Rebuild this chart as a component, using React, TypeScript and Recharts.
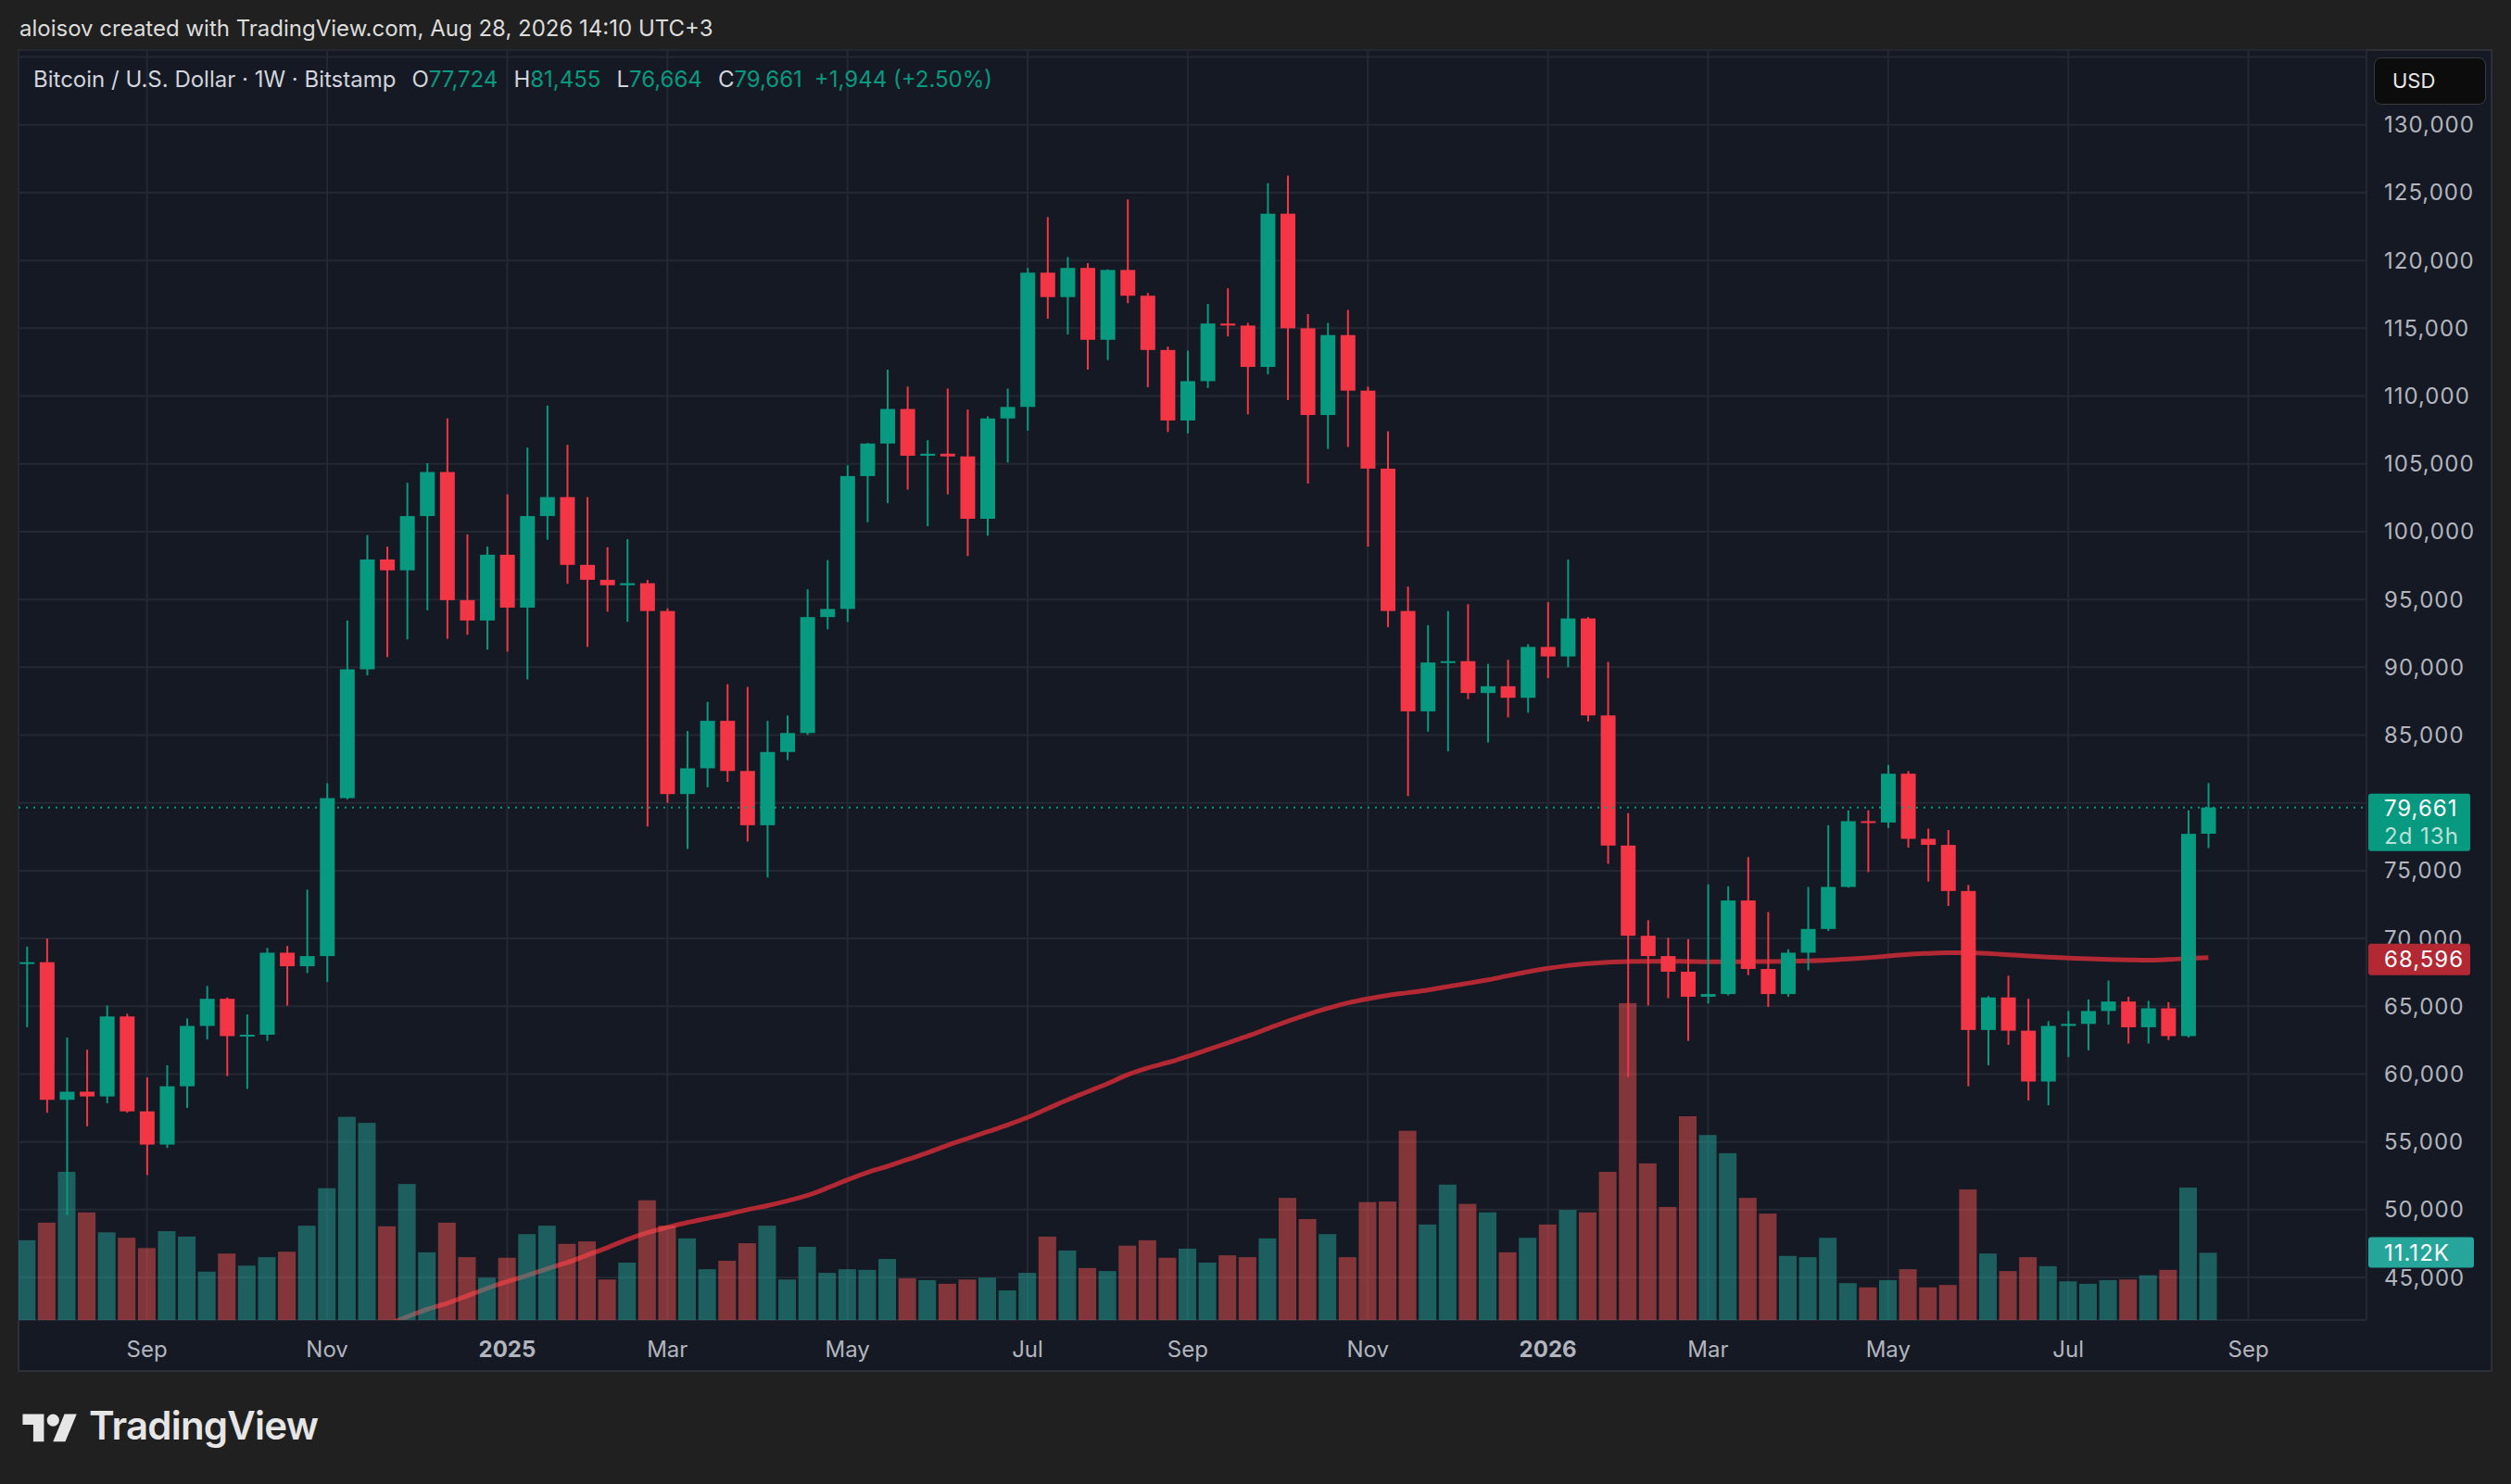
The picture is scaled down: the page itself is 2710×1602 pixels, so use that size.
import { Bar, CartesianGrid, ComposedChart, Line, ReferenceLine, XAxis, YAxis } from "recharts";

// weekly BTC/USD candles, Jul 22 2024 .. Aug 24 2026 (index = week number)
const opens = [
  68200, 68250, 58100, 58700, 58350, 64250, 57250, 54800, 59100, 63550,
  65550, 62800, 62900, 68950, 67950, 68700, 80350, 89850, 97950, 97150,
  101150, 104400, 94950, 93450, 98300, 94400, 101150, 102550, 97550, 96450,
  96050, 96200, 94150, 80650, 82550, 86050, 82350, 78350, 83750, 85150,
  93700, 94300, 104100, 106500, 109050, 105600, 105750, 105550, 100950, 108350,
  109200, 119100, 117300, 119450, 114150, 119300, 117400, 113400, 108200, 111100,
  115350, 115200, 112150, 123450, 115000, 108600, 114500, 110400, 104650, 94150,
  86750, 90350, 90450, 88100, 88600, 87750, 91500, 90800, 93600, 86450,
  76850, 70200, 68700, 67550, 65700, 65900, 72800, 67750, 65900, 68950,
  70700, 73800, 78650, 78550, 82150, 77350, 76900, 73500, 63250, 65650,
  63200, 59450, 63550, 63700, 64650, 65350, 63450, 64850, 62800, 77724,
];
const highs = [
  69400, 70000, 62700, 61800, 65050, 64450, 59750, 60650, 64100, 66500,
  65650, 64400, 69300, 69450, 73600, 81450, 93450, 99750, 98900, 103600,
  105050, 108350, 99800, 98900, 102750, 106200, 109300, 106400, 102550, 98850,
  99450, 96450, 94350, 85300, 87450, 88750, 88550, 86050, 86450, 95750,
  97900, 104900, 106550, 111950, 110700, 106750, 110550, 109000, 108500, 110550,
  119450, 123200, 120250, 119800, 119350, 124500, 117600, 113650, 113350, 116800,
  117950, 115400, 125700, 126250, 116050, 115400, 116350, 110700, 107400, 95950,
  93100, 94150, 94650, 90250, 90550, 91700, 94800, 97950, 93700, 90400,
  79250, 71350, 70050, 69950, 74000, 73850, 76000, 71950, 69200, 73800,
  78350, 79450, 79450, 82800, 82350, 78100, 78000, 73950, 65750, 67250,
  65550, 63900, 64650, 65500, 66900, 65700, 65400, 65300, 79450, 81455,
];
const lows = [
  63450, 57150, 49600, 56150, 57850, 57150, 52550, 54550, 57500, 62550,
  59850, 58900, 62450, 65050, 67450, 66800, 80250, 89400, 90750, 92050,
  94200, 92100, 92400, 91300, 91150, 89100, 99400, 96150, 91500, 94100,
  93350, 78250, 80000, 76600, 81150, 81550, 77150, 74500, 83150, 85000,
  92800, 93350, 100700, 102100, 103100, 100400, 102750, 98200, 99700, 105100,
  107450, 115700, 114550, 111950, 112650, 116850, 110650, 107350, 107250, 110600,
  114400, 108650, 111600, 109700, 103550, 106100, 106250, 98900, 92950, 80500,
  85250, 83800, 87650, 84450, 86300, 86650, 89200, 90000, 86000, 75500,
  59800, 65050, 65600, 62450, 65200, 65800, 67300, 64950, 65700, 67650,
  70550, 73750, 74900, 78150, 76700, 74200, 72400, 59100, 60650, 62150,
  58050, 57700, 61250, 61750, 63650, 62250, 62250, 62500, 62700, 76664,
];
const closes = [
  68250, 58100, 58700, 58350, 64250, 57250, 54800, 59100, 63550, 65550,
  62800, 62900, 68950, 67950, 68700, 80350, 89850, 97950, 97150, 101150,
  104400, 94950, 93450, 98300, 94400, 101150, 102550, 97550, 96450, 96050,
  96200, 94150, 80650, 82550, 86050, 82350, 78350, 83750, 85150, 93700,
  94300, 104100, 106500, 109050, 105600, 105750, 105550, 100950, 108350, 109200,
  119100, 117300, 119450, 114150, 119300, 117400, 113400, 108200, 111100, 115350,
  115200, 112150, 123450, 115000, 108600, 114500, 110400, 104650, 94150, 86750,
  90350, 90450, 88100, 88600, 87750, 91500, 90800, 93600, 86450, 76850,
  70200, 68700, 67550, 65700, 65900, 72800, 67750, 65900, 68950, 70700,
  73800, 78650, 78550, 82150, 77350, 76900, 73500, 63250, 65650, 63200,
  59450, 63550, 63700, 64650, 65350, 63450, 64850, 62800, 77717, 79661,
];
// volume in thousands of BTC
const volumes = [
  13.2, 16.1, 24.5, 17.8, 14.5, 13.6, 11.9, 14.7, 13.8, 8.0,
  11.0, 9.0, 10.4, 11.3, 15.6, 21.8, 33.6, 32.6, 15.5, 22.5,
  11.2, 16.1, 10.4, 7.0, 10.3, 14.2, 15.6, 12.6, 13.0, 6.7,
  9.5, 19.8, 15.6, 13.5, 8.4, 9.8, 12.7, 15.6, 6.7, 12.1,
  7.8, 8.4, 8.3, 10.1, 6.9, 6.6, 6.0, 6.7, 7.0, 4.9,
  7.8, 13.8, 11.5, 8.6, 8.1, 12.3, 13.2, 10.3, 11.8, 9.5,
  10.7, 10.4, 13.5, 20.2, 16.7, 14.2, 10.4, 19.5, 19.6, 31.3,
  15.8, 22.4, 19.2, 17.8, 11.2, 13.6, 15.8, 18.2, 17.8, 24.5,
  52.4, 25.9, 18.7, 33.7, 30.6, 27.6, 20.2, 17.6, 10.6, 10.4,
  13.6, 6.1, 5.4, 6.6, 8.4, 5.4, 5.8, 21.6, 11.0, 8.1,
  10.4, 8.9, 6.4, 6.0, 6.6, 6.7, 7.4, 8.3, 21.9, 11.12,
];
// moving average, below the visible range before week 17
const sma = [
  null, null, null, null, null, null, null, null, null, null,
  null, null, null, null, null, null, null, 40950, 41500, 42100,
  42650, 43100, 43650, 44200, 44700, 45150, 45650, 46100, 46650, 47200,
  47800, 48300, 48700, 49050, 49350, 49650, 50000, 50300, 50650, 51050,
  51600, 52200, 52750, 53200, 53700, 54200, 54750, 55250, 55750, 56250,
  56800, 57450, 58100, 58700, 59300, 59950, 60450, 60850, 61300, 61800,
  62300, 62800, 63350, 63900, 64400, 64850, 65250, 65550, 65800, 66000,
  66200, 66450, 66700, 66950, 67250, 67550, 67800, 68000, 68150, 68250,
  68300, 68320, 68320, 68300, 68280, 68280, 68290, 68300, 68320, 68350,
  68400, 68480, 68580, 68700, 68830, 68900, 68950, 68950, 68900, 68800,
  68700, 68620, 68560, 68500, 68450, 68420, 68400, 68450, 68530, 68596,
];

const monthTickIndex = [6, 15, 24, 32, 41, 50, 58, 67, 76, 84, 93, 102, 111];
const monthTickLabels = ["Sep", "Nov", "2025", "Mar", "May", "Jul", "Sep", "Nov", "2026", "Mar", "May", "Jul", "Sep"];
const priceTicks = [
  45000, 50000, 55000, 60000, 65000, 70000, 75000, 80000, 85000, 90000,
  95000, 100000, 105000, 110000, 115000, 120000, 125000, 130000, 135000,
];

const rows = opens.map((o, i) => ({
  i,
  o,
  h: highs[i],
  l: lows[i],
  c: closes[i],
  vol: volumes[i],
  ma: sma[i],
}));

const UP = "#089981";
const DOWN = "#f23645";
const VOL_UP = "rgba(38,166,154,0.5)";
const VOL_DOWN = "rgba(239,83,80,0.5)";
const MA_COLOR = "#b22833";
const GRID = "#242832";
const AXIS_TEXT = "#b2b5be";
const FONT = "Inter, 'Noto Sans', sans-serif";

const X_DOMAIN: [number, number] = [-0.42, 116.9];
const PRICE_DOMAIN: [number, number] = [41860, 135520];
const VOL_DOMAIN: [number, number] = [0, 210];

const last = rows[rows.length - 1];
const prev = rows[rows.length - 2];
const change = last.c - prev.c;
const changePct = (change / prev.c) * 100;
const fmt = (v: number) => v.toLocaleString("en-US");

function Candle(props: any) {
  const { x, y, width, height, payload } = props;
  if (!payload || height == null) return null;
  const top = Math.min(y, y + height);
  const span = Math.abs(height);
  const range = payload.h - payload.l || 1;
  const py = (v: number) => top + ((payload.h - v) / range) * span;
  const color = payload.c >= payload.o ? UP : DOWN;
  const bodyTop = py(Math.max(payload.o, payload.c));
  const bodyBottom = py(Math.min(payload.o, payload.c));
  const cx = x + width / 2;
  return (
    <g>
      <line x1={cx} x2={cx} y1={top} y2={top + span} stroke={color} strokeWidth={2} />
      <rect x={x} y={bodyTop} width={width} height={Math.max(bodyBottom - bodyTop, 2)} fill={color} />
    </g>
  );
}

function VolumeBar(props: any) {
  const { x, y, width, height, payload } = props;
  if (!payload) return null;
  return <rect x={x} y={y} width={width} height={height} fill={payload.c >= payload.o ? VOL_UP : VOL_DOWN} />;
}

function PriceTick(p: any) {
  const v = p.payload.value;
  if (v > 130000) return <g />;
  return (
    <text x={p.x} y={p.y} dominantBaseline="central" textAnchor="start" fill={AXIS_TEXT} fontSize={24} fontFamily={FONT} letterSpacing={1}>
      {fmt(v)}
    </text>
  );
}

function TimeTick(p: any) {
  const k = monthTickIndex.indexOf(p.payload.value);
  const label = k >= 0 ? monthTickLabels[k] : "";
  const isYear = /^\d{4}$/.test(label);
  return (
    <text x={p.x} y={p.y + 31} dominantBaseline="central" textAnchor="middle" fill={AXIS_TEXT} fontSize={24} fontWeight={isYear ? 700 : 400} fontFamily={FONT}>
      {label}
    </text>
  );
}

// tags sit just right of the plot area, whatever the segment direction
function tagLeft(p: any) {
  return Math.max(p.x1, p.x2) + 2;
}

function lastPriceShape(p: any) {
  const left = Math.min(p.x1, p.x2);
  const right = Math.max(p.x1, p.x2);
  const y = p.y1;
  const tx = tagLeft(p);
  return (
    <g>
      <line x1={left} x2={right} y1={y} y2={y} stroke={UP} strokeWidth={2} strokeDasharray="2 6" />
      <rect x={tx} y={y - 15} width={110} height={62} rx={3} fill={UP} />
      <text x={tx + 17} y={y + 1} dominantBaseline="central" fill="#ffffff" fontSize={24} fontFamily={FONT} letterSpacing={1}>
        {fmt(last.c)}
      </text>
      <text x={tx + 17} y={y + 31} dominantBaseline="central" fill="rgba(255,255,255,0.72)" fontSize={24} fontFamily={FONT} letterSpacing={1}>
        2d 13h
      </text>
    </g>
  );
}

function maShape(p: any) {
  const y = p.y1;
  const tx = tagLeft(p);
  return (
    <g>
      <rect x={tx} y={y - 15} width={110} height={34} rx={3} fill={MA_COLOR} />
      <text x={tx + 17} y={y + 2} dominantBaseline="central" fill="#ffffff" fontSize={24} fontFamily={FONT} letterSpacing={1}>
        {fmt(last.ma as number)}
      </text>
    </g>
  );
}

function volShape(p: any) {
  const y = p.y1;
  const tx = tagLeft(p);
  return (
    <g>
      <rect x={tx} y={y - 17} width={114} height={33} rx={3} fill="#26a69a" />
      <text x={tx + 17} y={y} dominantBaseline="central" fill="#ffffff" fontSize={24} fontFamily={FONT} letterSpacing={1}>
        {last.vol.toFixed(2)}K
      </text>
    </g>
  );
}

function PriceChart() {
  return (
    <ComposedChart width={2710} height={1602} data={rows} margin={{ top: 54, right: 21, bottom: 121, left: 20 }}>
      <CartesianGrid xAxisId="p" yAxisId="price" stroke={GRID} strokeWidth={2} />
      <XAxis
        xAxisId="p"
        dataKey="i"
        type="number"
        domain={X_DOMAIN}
        allowDataOverflow
        ticks={monthTickIndex}
        interval={0}
        tick={(p: any) => <TimeTick {...p} />}
        tickSize={0}
        tickMargin={0}
        axisLine={false}
        tickLine={false}
        height={56}
      />
      <XAxis xAxisId="v" dataKey="i" type="number" domain={X_DOMAIN} allowDataOverflow hide />
      <YAxis
        yAxisId="price"
        orientation="right"
        domain={PRICE_DOMAIN}
        allowDataOverflow
        ticks={priceTicks}
        interval={0}
        tick={(p: any) => <PriceTick {...p} />}
        tickSize={0}
        tickMargin={19}
        axisLine={false}
        tickLine={false}
        width={135}
      />
      <YAxis yAxisId="vol" domain={VOL_DOMAIN} allowDataOverflow hide />
      <Line
        xAxisId="p"
        yAxisId="price"
        dataKey="ma"
        type="monotone"
        stroke={MA_COLOR}
        strokeWidth={5}
        dot={false}
        activeDot={false}
        isAnimationActive={false}
        zIndex={260}
      />
      <Bar
        xAxisId="v"
        yAxisId="vol"
        dataKey="vol"
        barSize={19}
        shape={(p: any) => <VolumeBar {...p} />}
        isAnimationActive={false}
        zIndex={280}
      />
      <Bar
        xAxisId="p"
        yAxisId="price"
        dataKey={(d: any) => [d.l, d.h]}
        barSize={16}
        shape={(p: any) => <Candle {...p} />}
        isAnimationActive={false}
        zIndex={300}
      />
    </ComposedChart>
  );
}

// second layer with the same plot box, so the value tags cover the axis labels
function TagLayer() {
  return (
    <ComposedChart width={2710} height={1602} data={rows} margin={{ top: 54, right: 156, bottom: 177, left: 20 }}>
      <XAxis xAxisId="p" dataKey="i" type="number" domain={X_DOMAIN} allowDataOverflow hide />
      <YAxis yAxisId="price" domain={PRICE_DOMAIN} allowDataOverflow hide />
      <YAxis yAxisId="vol" domain={VOL_DOMAIN} allowDataOverflow hide />
      <ReferenceLine xAxisId="p" yAxisId="vol" y={last.vol} shape={volShape} />
      <ReferenceLine xAxisId="p" yAxisId="price" y={last.ma as number} shape={maShape} />
      <ReferenceLine xAxisId="p" yAxisId="price" y={last.c} shape={lastPriceShape} />
    </ComposedChart>
  );
}

export default function App() {
  return (
    <div style={{ position: "absolute", left: 0, top: 0, width: 2710, height: 1602, background: "#202020", overflow: "hidden", fontFamily: FONT }}>
      <div style={{ position: "absolute", left: 21, top: 16, fontSize: 24, lineHeight: "30px", color: "#dcdcdc" }}>
        aloisov created with TradingView.com, Aug 28, 2026 14:10 UTC+3
      </div>
      <div
        style={{
          position: "absolute",
          left: 19,
          top: 53,
          width: 2671,
          height: 1428,
          background: "#151924",
          border: "2px solid #2e3038",
          boxSizing: "border-box",
        }}
      />
      <div style={{ position: "absolute", left: 0, top: 0 }}>
        <PriceChart />
      </div>
      <div style={{ position: "absolute", left: 0, top: 0, pointerEvents: "none" }}>
        <TagLayer />
      </div>
      <div style={{ position: "absolute", left: 36, top: 71, fontSize: 24, lineHeight: "30px", color: "#d1d4dc", display: "flex", whiteSpace: "nowrap" }}>
        <span>Bitcoin / U.S. Dollar · 1W · Bitstamp</span>
        <span style={{ marginLeft: 17 }}>
          O<span style={{ color: UP }}>{fmt(last.o)}</span>
        </span>
        <span style={{ marginLeft: 17 }}>
          H<span style={{ color: UP }}>{fmt(last.h)}</span>
        </span>
        <span style={{ marginLeft: 17 }}>
          L<span style={{ color: UP }}>{fmt(last.l)}</span>
        </span>
        <span style={{ marginLeft: 17 }}>
          C<span style={{ color: UP }}>{fmt(last.c)}</span>
        </span>
        <span style={{ marginLeft: 13, color: UP }}>
          {change >= 0 ? "+" : ""}
          {fmt(change)} ({change >= 0 ? "+" : ""}
          {changePct.toFixed(2)}%)
        </span>
      </div>
      <div
        style={{
          position: "absolute",
          left: 2562,
          top: 62,
          width: 121,
          height: 51,
          boxSizing: "border-box",
          background: "#0c0c0c",
          border: "1px solid #3a3a3a",
          borderRadius: 8,
          color: "#e8e8e8",
          fontSize: 22,
          lineHeight: "49px",
          paddingLeft: 19,
        }}
      >
        USD
      </div>
      <svg style={{ position: "absolute", left: 24, top: 1520 }} width={60} height={46} viewBox="0 0 36 28">
        <path d="M14 22H7V11H0V4h14v18zM28 22h-8l7.5-18h8L28 22z" fill="#e6e6e6" />
        <circle cx="20" cy="8" r="4" fill="#e6e6e6" />
      </svg>
      <div style={{ position: "absolute", left: 96, top: 1514, fontSize: 42, lineHeight: "50px", fontWeight: 600, color: "#e6e6e6", letterSpacing: -0.8 }}>
        TradingView
      </div>
    </div>
  );
}
